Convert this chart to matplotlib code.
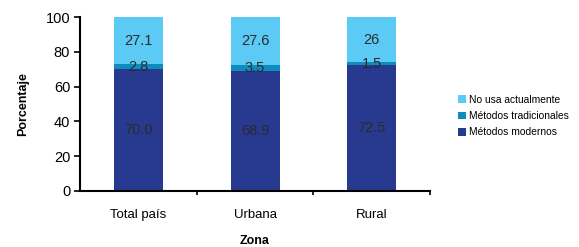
import numpy as np
import matplotlib
matplotlib.use("Agg")
import matplotlib.pyplot as plt

plt.rcParams['font.family'] = ['Liberation Sans', 'DejaVu Sans']

zonas = ['Total país', 'Urbana', 'Rural']
modernos = [70.0, 68.9, 72.5]
tradicionales = [2.8, 3.5, 1.5]
no_usa = [27.1, 27.6, 26]
lab_modernos = ['70.0', '68.9', '72.5']
lab_tradicionales = ['2.8', '3.5', '1.5']
lab_no_usa = ['27.1', '27.6', '26']

fig = plt.figure(figsize=(5.79, 2.47), dpi=100)
ax = fig.add_axes([0.138, 0.227, 0.605, 0.704])

x = np.arange(len(zonas))
w = 0.42
b1 = ax.bar(x, modernos, w, color='#283990', label='Métodos modernos')
b2 = ax.bar(x, tradicionales, w, bottom=modernos, color='#0E8CBE',
            label='Métodos tradicionales')
bottom3 = np.array(modernos) + np.array(tradicionales)
b3 = ax.bar(x, no_usa, w, bottom=bottom3, color='#5BCBF5',
            label='No usa actualmente')

for bars, labs in [(b1, lab_modernos), (b2, lab_tradicionales), (b3, lab_no_usa)]:
    ax.bar_label(bars, labels=labs, label_type='center', fontsize=10.5,
                 color='#2b2b2b')

ax.set_xlim(-0.5, 2.5)
ax.set_ylim(0, 100)
ax.set_yticks(range(0, 101, 20))
ax.set_xticks(x)
ax.set_xticklabels(zonas)
ax.tick_params(axis='x', length=0, pad=13, labelsize=9.5)
ax.set_xticks([0.5, 1.5, 2.5], minor=True)
ax.tick_params(axis='x', which='minor', length=3, width=1.2, direction='out')
ax.tick_params(axis='y', length=4, width=1.2, labelsize=10.5, pad=3)
for s in ['top', 'right']:
    ax.spines[s].set_visible(False)
for s in ['left', 'bottom']:
    ax.spines[s].set_linewidth(1.5)

ax.set_ylabel('Porcentaje', fontsize=9, fontweight='bold', labelpad=12)
ax.set_xlabel('Zona', fontsize=9, fontweight='bold', labelpad=10)

handles, labels = ax.get_legend_handles_labels()
fig.legend(handles[::-1], labels[::-1], loc='center left',
           bbox_to_anchor=(0.775, 0.53), frameon=False, fontsize=7.4,
           handlelength=0.8, handleheight=0.8, handletextpad=0.3,
           labelspacing=0.6)

fig.savefig('out.png', dpi=100)
